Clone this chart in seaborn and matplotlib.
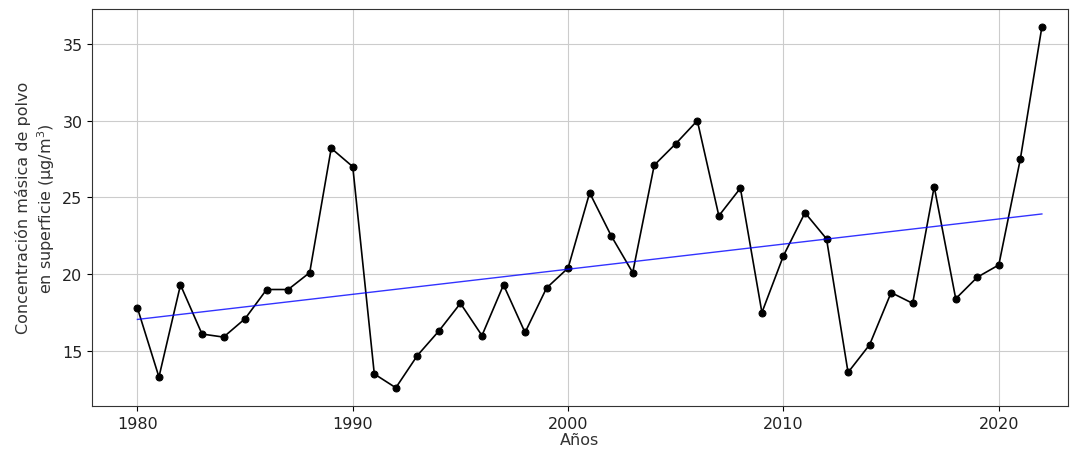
import numpy as np
import pandas as pd
import matplotlib
import matplotlib.pyplot as plt
import seaborn as sns

matplotlib.use("Agg")

years = list(range(1980, 2023))
dust = [
    17.8, 13.3, 19.3, 16.1, 15.9, 17.1, 19.0, 19.0, 20.1, 28.2,
    27.0, 13.5, 12.6, 14.7, 16.3, 18.1, 16.0, 19.3, 16.2, 19.1,
    20.4, 25.3, 22.5, 20.1, 27.1, 28.5, 30.0, 23.8, 25.6, 17.5,
    21.2, 24.0, 22.3, 13.6, 15.4, 18.8, 18.1, 25.7, 18.4, 19.8,
    20.6, 27.5, 36.1,
]


def plot_dust(output_path="out.png"):
    df = pd.DataFrame({"year": years, "dust": dust})
    slope, intercept = np.polyfit(df["year"], df["dust"], 1)
    df["trend"] = slope * df["year"] + intercept

    fig = plt.figure(figsize=(10.72, 4.52), dpi=100)
    ax = fig.add_axes([0.086, 0.1, 0.91, 0.878])

    sns.lineplot(data=df, x="year", y="dust", color="black", marker="o",
                 markersize=5, markeredgecolor="black", linewidth=1.2, ax=ax)
    sns.lineplot(data=df, x="year", y="trend", color="blue", linewidth=1.0,
                 alpha=0.8, ax=ax)

    ax.set_xlim(1977.9, 2023.2)
    ax.set_xticks([1980, 1990, 2000, 2010, 2020])
    ax.grid(True, color="#cccccc", linewidth=0.8)
    ax.set_xlabel("Años", fontsize=11.5, labelpad=1, color="#333333")
    ax.set_ylabel("Concentración másica de polvo\nen superficie (μg/m$^3$)",
                  fontsize=11.5, color="#333333")
    ax.tick_params(labelsize=11.5, labelcolor="#222222")
    for spine in ax.spines.values():
        spine.set_color("#333333")

    fig.savefig(output_path, dpi=100)


if __name__ == "__main__":
    plot_dust()
